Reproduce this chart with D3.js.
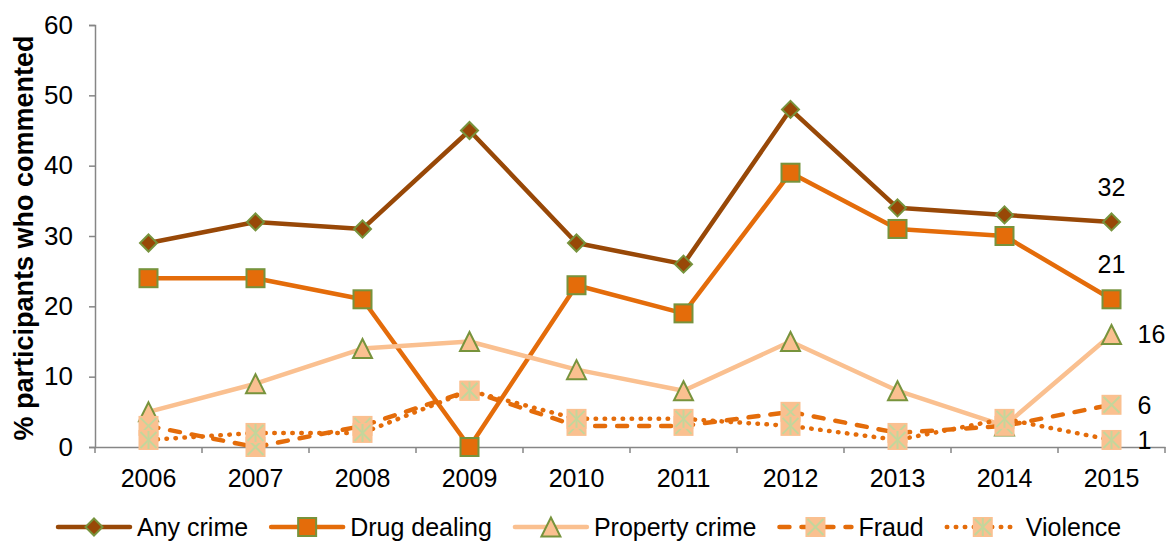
<!DOCTYPE html>
<html>
<head>
<meta charset="utf-8">
<script src="https://cdn.jsdelivr.net/npm/d3@7"></script>
<style>
  html, body { margin: 0; padding: 0; background: #fff; }
  svg { display: block; font-family: "Liberation Sans", Arial, sans-serif; }
</style>
</head>
<body>
<svg id="chart" width="1173" height="543"></svg>
<script>
// Share of participants who commented on each crime type, 2006-2015
const years = ["2006", "2007", "2008", "2009", "2010", "2011", "2012", "2013", "2014", "2015"];
const anyCrime     = [29, 32, 31, 45, 29, 26, 48, 34, 33, 32];
const drugDealing  = [24, 24, 21, 0, 23, 19, 39, 31, 30, 21];
const propertyCrime = [5, 9, 14, 15, 11, 8, 15, 8, 3, 16];
const fraud        = [3, 0, 3, 8, 3, 3, 5, 2, 3, 6];
const violence     = [1, 2, 2, 8, 4, 4, 3, 1, 4, 1];
const yTicks = [0, 10, 20, 30, 40, 50, 60];
const yTitle = "% participants who commented";

const series = [
  { name: "Any crime",      values: anyCrime,      color: "#984807", marker: "diamond",  dash: null,       label: "above" },
  { name: "Drug dealing",   values: drugDealing,   color: "#E46C0A", marker: "square",   dash: null,       label: "above" },
  { name: "Property crime", values: propertyCrime, color: "#FAC090", marker: "triangle", dash: null,       label: "right" },
  { name: "Fraud",          values: fraud,         color: "#E46C0A", marker: "boxX",     dash: "10 12",    label: "right" },
  { name: "Violence",       values: violence,      color: "#E46C0A", marker: "boxStar",  dash: "0.5 8.5",  label: "right" }
];

const svg = d3.select("#chart");
const plotLeft = 95, plotRight = 1165, plotTop = 25, plotBottom = 447;
const axisColor = "#868686";
const fontSize = 25;

const x = d3.scaleBand().domain(years).range([plotLeft, plotRight]);
const y = d3.scaleLinear().domain([0, 60]).range([plotBottom, plotTop]);
const cx = d => x(d) + x.bandwidth() / 2;

// Y axis
const yAxis = svg.append("g")
  .attr("transform", `translate(${plotLeft},0)`)
  .call(d3.axisLeft(y).tickValues(yTicks).tickSize(6).tickPadding(16));
yAxis.select(".domain").attr("stroke", axisColor).attr("stroke-width", 1.5);
yAxis.selectAll(".tick line").attr("stroke", axisColor).attr("stroke-width", 1.5);
yAxis.selectAll(".tick text").attr("font-size", 26).attr("fill", "#000")
  .attr("font-family", "Liberation Sans, Arial, sans-serif");

// X axis with ticks on category boundaries
const xAxis = svg.append("g")
  .attr("transform", `translate(0,${plotBottom})`)
  .call(d3.axisBottom(x).tickSize(0).tickPadding(22));
xAxis.select(".domain").attr("stroke", axisColor).attr("stroke-width", 1.5);
xAxis.selectAll(".tick text").attr("font-size", fontSize).attr("fill", "#000")
  .attr("font-family", "Liberation Sans, Arial, sans-serif");
const bounds = years.map(d => x(d)).concat([x(years[years.length - 1]) + x.bandwidth()]);
svg.append("g").selectAll("line").data(bounds).join("line")
  .attr("x1", d => d).attr("x2", d => d)
  .attr("y1", plotBottom).attr("y2", plotBottom + 6)
  .attr("stroke", axisColor).attr("stroke-width", 1.5);

// Y axis title
svg.append("text")
  .attr("transform", `translate(24,${(plotTop + plotBottom) / 2 + 2}) rotate(-90)`)
  .attr("text-anchor", "middle")
  .attr("dominant-baseline", "central")
  .attr("font-size", 27)
  .attr("font-weight", "bold")
  .text(yTitle);

// Marker drawing
const markerStroke = "#77933C";
const innerLine = "#C3D69B";
function drawMarker(g, type, s, px, py) {
  const m = g.append("g").attr("transform", `translate(${px},${py})`);
  if (type === "diamond") {
    const r = 8.5;
    m.append("path").attr("d", `M0,${-r}L${r},0L0,${r}L${-r},0Z`)
      .attr("fill", s.color).attr("stroke", markerStroke).attr("stroke-width", 2);
  } else if (type === "square") {
    const h = 9;
    m.append("rect").attr("x", -h).attr("y", -h).attr("width", 2 * h).attr("height", 2 * h)
      .attr("fill", s.color).attr("stroke", markerStroke).attr("stroke-width", 2);
  } else if (type === "triangle") {
    const h = 9.5;
    m.append("path").attr("d", `M0,${-h}L${h},${h}L${-h},${h}Z`)
      .attr("fill", s.color).attr("stroke", markerStroke).attr("stroke-width", 2);
  } else {
    const h = 10;
    m.append("rect").attr("x", -h).attr("y", -h).attr("width", 2 * h).attr("height", 2 * h)
      .attr("fill", "#FAC090");
    const k = 8;
    m.append("path").attr("d", `M${-k},${-k}L${k},${k}M${-k},${k}L${k},${-k}`)
      .attr("stroke", innerLine).attr("stroke-width", 2);
    if (type === "boxStar") {
      m.append("path").attr("d", `M0,${-k - 1}L0,${k + 1}`)
        .attr("stroke", innerLine).attr("stroke-width", 2);
    }
  }
}

// Series lines and markers
const line = d3.line().x((v, i) => cx(years[i])).y(v => y(v));
series.forEach(s => {
  const g = svg.append("g");
  g.append("path")
    .attr("d", line(s.values))
    .attr("fill", "none")
    .attr("stroke", s.color)
    .attr("stroke-width", 4.5)
    .attr("stroke-linejoin", "round")
    .attr("stroke-linecap", s.dash ? "round" : "butt")
    .attr("stroke-dasharray", s.dash);
  s.values.forEach((v, i) => drawMarker(g, s.marker, s, cx(years[i]), y(v)));
});

// Value labels on the last year
const last = years.length - 1;
series.forEach(s => {
  const v = s.values[last];
  const t = svg.append("text").attr("font-size", fontSize).attr("fill", "#000")
    .attr("dominant-baseline", "central").text(v);
  if (s.label === "above") {
    t.attr("x", cx(years[last])).attr("y", y(v) - 35).attr("text-anchor", "middle");
  } else {
    t.attr("x", cx(years[last]) + 26).attr("y", y(v)).attr("text-anchor", "start");
  }
});

// Legend
const legendY = 527;
let lx = 58;
series.forEach(s => {
  const g = svg.append("g");
  g.append("line")
    .attr("x1", lx).attr("x2", lx + 72).attr("y1", legendY).attr("y2", legendY)
    .attr("stroke", s.color).attr("stroke-width", 4.5)
    .attr("stroke-linecap", "round")
    .attr("stroke-dasharray", s.dash);
  drawMarker(g, s.marker, s, lx + 36, legendY);
  const t = g.append("text")
    .attr("x", lx + 79).attr("y", legendY)
    .attr("dominant-baseline", "central")
    .attr("font-size", fontSize).attr("fill", "#000")
    .text(s.name);
  lx = lx + 79 + t.node().getComputedTextLength() + 23;
});
</script>
</body>
</html>
